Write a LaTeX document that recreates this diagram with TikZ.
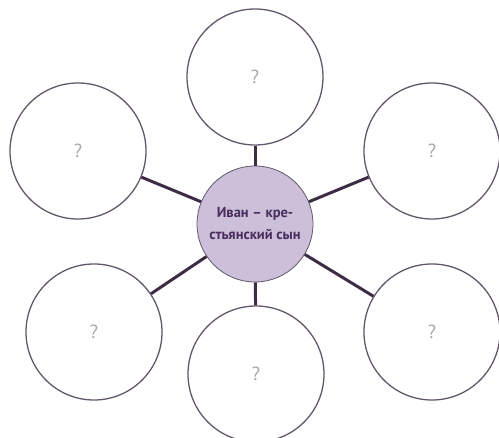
\documentclass[tikz,border=0pt]{standalone}
\usepackage{fontspec}
\setmainfont{PT Sans}
\begin{document}
\begin{tikzpicture}[x=1pt,y=1pt,
  outer/.style={circle,draw=ringcol,line width=1.3pt,fill=white,minimum size=136pt,inner sep=0pt,
    font=\fontsize{19}{19}\selectfont,text=qcol},
  hub/.style={circle,draw=ringcol,line width=0.8pt,fill=hubfill,minimum size=116pt,inner sep=0pt,
    font=\bfseries\fontsize{14.5}{22}\selectfont,text=hubtext,align=center},
  link/.style={draw=linkcol,line width=3pt}]
\definecolor{ringcol}{HTML}{62586A}
\definecolor{qcol}{HTML}{A8A8A8}
\definecolor{hubfill}{HTML}{CBBFDA}
\definecolor{hubtext}{HTML}{4A2E5E}
\definecolor{linkcol}{HTML}{3C2C44}
\useasboundingbox (0,0) rectangle (499,438);
\node[hub] (c) at (255,214) {Иван – кре-\\стьянский сын};
\node[outer] (t) at (255,361) {?};
\node[outer] (ul) at (78,287) {?};
\node[outer] (ur) at (432,287) {?};
\node[outer] (ll) at (94,106) {?};
\node[outer] (b) at (256,64) {?};
\node[outer] (lr) at (432,106) {?};
\draw[link] (c) -- (t);
\draw[link] (c) -- (ul);
\draw[link] (c) -- (ur);
\draw[link] (c) -- (ll);
\draw[link] (c) -- (b);
\draw[link] (c) -- (lr);
\end{tikzpicture}
\end{document}
